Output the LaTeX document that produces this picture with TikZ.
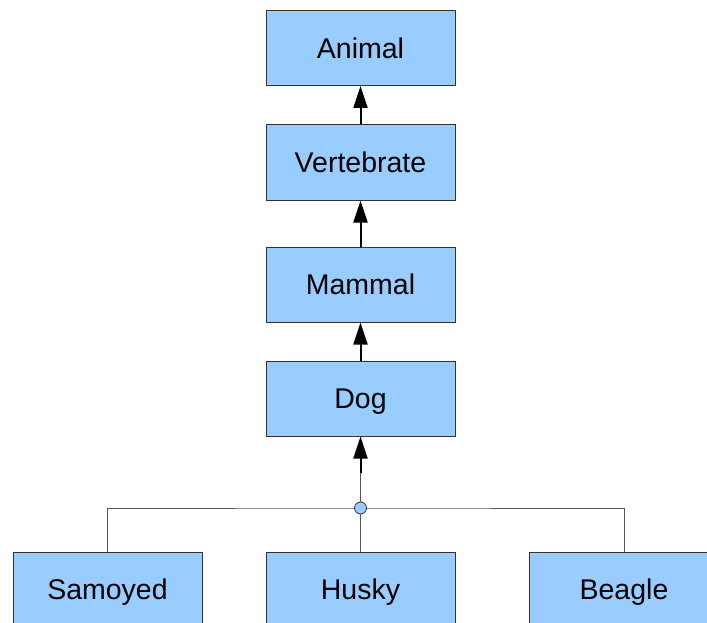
\documentclass[tikz,border=0pt]{standalone}
\usepackage{fontspec}
\setmainfont{Liberation Sans}
\usetikzlibrary{arrows.meta}
\definecolor{boxfill}{HTML}{99CCFF}
\definecolor{boxline}{HTML}{333333}
\definecolor{thinline}{HTML}{555555}
\tikzset{
  classbox/.style={draw=boxline, line width=1pt, fill=boxfill, minimum width=189pt, minimum height=75pt, inner sep=0pt, text height=20.5pt, text depth=0pt, font=\fontsize{28.5}{30}\selectfont},
  inherit/.style={draw=black, line width=2pt, -{Triangle[width=14pt,length=22pt]}},
  thin/.style={draw=thinline, line width=1pt},
  junction/.style={circle, draw=boxline, fill=boxfill, line width=0.8pt, minimum size=12pt, inner sep=0pt}
}
\begin{document}
\begin{tikzpicture}[x=1pt,y=-1pt]
\useasboundingbox (0,0) rectangle (707,623);
\clip (0,0) rectangle (707,623);
\node[classbox] (animal) at (360.5,48) {Animal};
\node[classbox] (vert) at (360.5,162.5) {Vertebrate};
\node[classbox] (mammal) at (360.5,284.5) {Mammal};
\node[classbox] (dog) at (360.5,398.5) {Dog};
\node[classbox] (samoyed) at (107.5,589.5) {Samoyed};
\node[classbox] (husky) at (360.5,589.5) {Husky};
\node[classbox] (beagle) at (624,589.5) {Beagle};
\coordinate (j) at (360.5,508);
\coordinate (shaft) at (360.5,473);
\draw[thin] (samoyed.north) |- (j) -| (beagle.north);
\draw[thin] (husky.north) -- (shaft);
\draw[inherit] (vert.north) -- (animal.south);
\draw[inherit] (mammal.north) -- (vert.south);
\draw[inherit] (dog.north) -- (mammal.south);
\draw[inherit] (shaft) -- (dog.south);
\node[junction] (jn) at (j) {};
\end{tikzpicture}
\end{document}
